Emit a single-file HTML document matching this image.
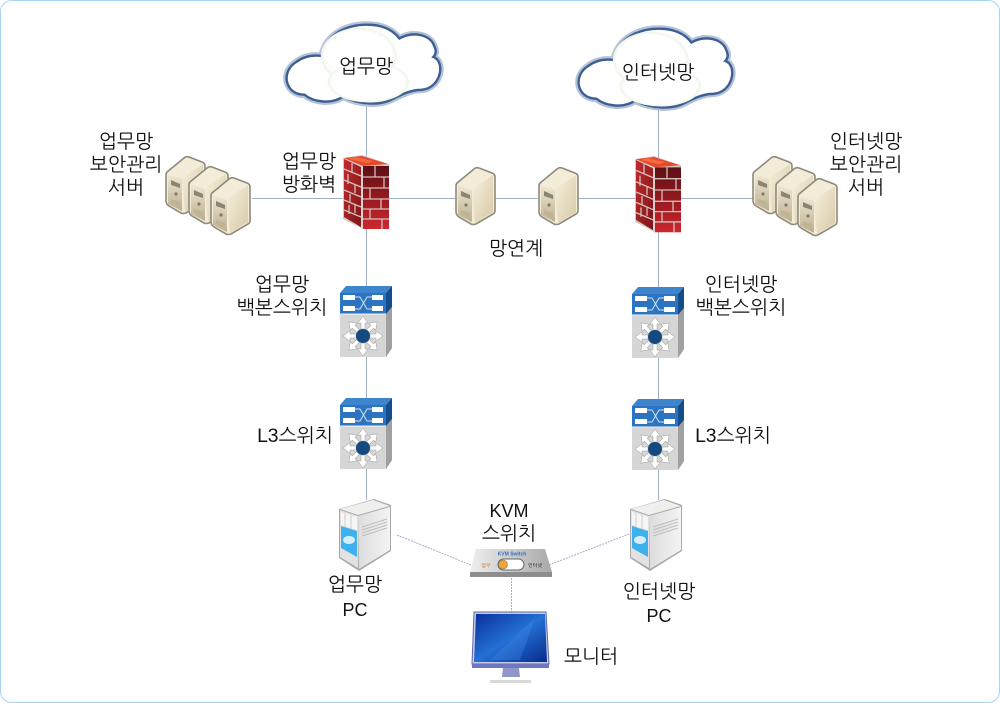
<!DOCTYPE html>
<html lang="ko"><head><meta charset="utf-8"><style>
html,body{margin:0;padding:0;background:#fff}
svg{display:block}
text{font-family:"Liberation Sans","NanumGothic","Noto Sans CJK KR",sans-serif;font-size:19.3px;fill:#111;text-anchor:middle}
text.lat{font-size:18px}
</style></head><body>
<svg width="1000" height="703" viewBox="0 0 1000 703" xmlns="http://www.w3.org/2000/svg">
<defs>
<linearGradient id="srvF" x1="0" y1="0" x2="1" y2="1"><stop offset="0" stop-color="#f6f0de"/><stop offset="1" stop-color="#d8c9a6"/></linearGradient>
<linearGradient id="srvS" x1="0" y1="0" x2="0" y2="1"><stop offset="0" stop-color="#efe8d4"/><stop offset="1" stop-color="#bdaf90"/></linearGradient>
<radialGradient id="cl" cx=".5" cy=".5" r=".55"><stop offset="0" stop-color="#fff"/><stop offset=".8" stop-color="#fff"/><stop offset="1" stop-color="#dcecd4"/></radialGradient>
<linearGradient id="scr" x1="0" y1="0" x2="1" y2="1"><stop offset="0" stop-color="#08309a"/><stop offset=".5" stop-color="#2470d4"/><stop offset="1" stop-color="#062a8a"/></linearGradient>
<linearGradient id="pcS" x1="0" y1="0" x2="1" y2="0"><stop offset="0" stop-color="#dcdcdc"/><stop offset="1" stop-color="#f4f4f4"/></linearGradient>
<linearGradient id="kvm" x1="0" y1="0" x2="1" y2="0"><stop offset="0" stop-color="#eeeeee"/><stop offset="1" stop-color="#a9a9a9"/></linearGradient>
<linearGradient id="brF" x1="0" y1="0" x2="0" y2="1"><stop offset="0" stop-color="#5c0f14"/><stop offset=".5" stop-color="#96191f"/><stop offset="1" stop-color="#cc282e"/></linearGradient>
<linearGradient id="brL" x1="0" y1="0" x2="1" y2="1"><stop offset="0" stop-color="#c22a2c"/><stop offset="1" stop-color="#7c1519"/></linearGradient>

<path id="cloudP" d="M22 76C2 76-3 52 14 42C22 36 32 35 40 36C44 14 66 2 92 4C104 5 114 10 120 18C134 10 152 14 156 26C158 30 158 34 155 37C168 42 163 70 142 71C132 71 122 76 114 80C100 88 78 86 62 78C50 86 32 84 22 76Z"/>
<g id="cloud">
<use href="#cloudP" fill="#fff" stroke="#b4c4d6" stroke-width="7"/>
<use href="#cloudP" fill="#fff" stroke="#3f5f94" stroke-width="2.500"/>
<ellipse cx="78" cy="36" rx="39" ry="29" fill="url(#cl)"/>
<ellipse cx="88" cy="63" rx="42" ry="21" fill="url(#cl)"/>
</g>

<g id="server">
<path d="M2 17 19 3Q21 1 24 2L37 7Q40 8 40 11V45Q40 47 38 48L21 58Q18 59 16 58L4 51Q1 49 1 46V20Q1 18 2 17Z" fill="#f3ecd8" stroke="#8e8a7c" stroke-width="1.600"/>
<path d="M17 23 38 9V46L20 57Z" fill="url(#srvF)"/>
<path d="M3 19 17 24V56L3 49Z" fill="url(#srvS)"/>
<path d="M6 25 15 29V33L6 30Z" fill="#8a8572"/>
<circle cx="11" cy="39" r="1.6" fill="#7d7a68"/>
<path d="M6 44 15 47V52L6 48Z" fill="#bfb396"/>
</g>

<g id="wall">
<path d="M0 3 19 0 46 9V74H20L0 64Z" fill="#d4c6c4"/>
<path d="M1 3 19 1 45 9 20 11Z" fill="#e64a2e"/>
<path d="M12 2 30 6 24 8 6 4Z" fill="#f46a3e"/>
<path d="M1 4 18 12V72L1 62Z" fill="url(#brL)"/>
<path d="M20 11H46V74H20Z" fill="url(#brF)"/>
<path d="M20 22H46M20 33H46M20 44H46M20 54H46M20 64H46M32 11V22M41 22V33M27 33V44M38 44V54M27 54V64M39 64V74M1 14 18 21M1 25 18 32M1 35 18 42M1 45 18 52M1 55 18 62M9 8V18M5 19V29M12 29V38M7 39V48M12 49V58M6 50V59" stroke="#d3bfbd" stroke-width="1.300" fill="none"/>
<path d="M19 11V74" stroke="#e0d4d2" stroke-width="1.500" fill="none"/>
</g>

<path id="arm" d="M-2-7V-13H-5L0-20 5-13H2V-7Z" fill="#fff" stroke="#9a9a9a" stroke-width=".5"/>
<g id="sw">
<path d="M0 7 6 0H52L46 7Z" fill="#3d85cc"/>
<path d="M46 7 52 0V62L46 71Z" fill="#a9a9a9"/>
<path d="M0 7H46V28H0Z" fill="#2b74c2"/>
<path d="M46 7 52 0V21L46 28Z" fill="#134d8a"/>
<path d="M0 28H46V71H0Z" fill="#d6d6d6"/>
<path d="M46 28 52 21V62L46 71Z" fill="#a0a0a0"/>
<path d="M0 28H46" stroke="#f1f1f1"/>
<path d="M3 9H15V14H3ZM32 9H43V14H32ZM3 20H15V25H3ZM32 20H43V25H32Z" fill="#fff"/>
<path d="M15 11H20L27 23H32M15 23H20L27 11H32" stroke="#cfe3f4" fill="none"/>
<g transform="translate(23 50)">
<use href="#arm"/>
<use href="#arm" transform="rotate(45)"/>
<use href="#arm" transform="rotate(90)"/>
<use href="#arm" transform="rotate(135)"/>
<use href="#arm" transform="rotate(180)"/>
<use href="#arm" transform="rotate(225)"/>
<use href="#arm" transform="rotate(270)"/>
<use href="#arm" transform="rotate(315)"/>
<circle r="7" fill="#154a80"/>
</g>
</g>

<g id="pc">
<path d="M1 10 36 0 53 6V52L21 72 1 59Z" fill="#a8a8a8"/>
<path d="M2 10 35 1 52 7 20 16Z" fill="#efefef"/>
<path d="M20 17 52 8V51L21 70Z" fill="url(#pcS)"/>
<path d="M2 11 20 17V69L2 58Z" fill="#e2e2e2"/>
<path d="M3 13 19 18V31L3 26Z" fill="#f6f6f6"/>
<path d="M7 14V28M13 16V30" stroke="#cfcfcf"/>
<path d="M3 27 19 32V58L3 49Z" fill="#3db1ee"/>
<ellipse cx="11" cy="41" rx="6" ry="4" fill="#d5eefb"/>
<path d="M24 28 49 20M24 31 49 23M24 34 49 26M24 37 49 29" stroke="#bcbcbc"/>
</g>
</defs>

<rect x=".5" y=".5" width="999" height="702" rx="11" fill="#fff" stroke="#a9d3f2"/>

<g stroke="#9fb0c9" stroke-width="1" fill="none">
<path d="M366.500 100V500M658.500 100V500M252 198.500H760"/>
</g>
<g stroke="#9fb0c9" stroke-width="1" stroke-dasharray="2 1" fill="none">
<path d="M397 535 471 565M549 565 629 534M511.500 578V612"/>
</g>

<use href="#cloud" transform="translate(283 21) scale(.97)"/>
<use href="#cloud" transform="translate(575 25) scale(.97)"/>

<use href="#server" x="165" y="155"/>
<use href="#server" x="188" y="165"/>
<use href="#server" x="210" y="176"/>
<use href="#server" x="455" y="166"/>
<use href="#server" x="538" y="166"/>
<use href="#server" x="752" y="155"/>
<use href="#server" x="775" y="166"/>
<use href="#server" x="797" y="177"/>

<use href="#wall" x="343" y="155"/>
<use href="#wall" transform="translate(635 156) scale(1 1.030)"/>

<use href="#sw" x="340" y="286"/>
<use href="#sw" x="340" y="398"/>
<use href="#sw" x="632" y="287"/>
<use href="#sw" x="632" y="399"/>

<use href="#pc" x="338" y="499"/>
<use href="#pc" x="629" y="499"/>

<!-- KVM -->
<path d="M476 549H545L552 572 551 577H470V572Z" fill="url(#kvm)"/>
<path d="M470 572H552V577H470Z" fill="#8d8d8d"/>
<rect x="498" y="559" width="26" height="11" rx="5.500" fill="#fff" stroke="#666"/>
<circle cx="503" cy="564.500" r="4.500" fill="#f3a32f" stroke="#777" stroke-width=".6"/>
<text x="512" y="555.500" style="font-size:5px;fill:#3a6fc0;font-weight:bold">KVM Switch</text>
<text x="486" y="567" style="font-size:5px;fill:#d2691e">업무</text>
<text x="535" y="567" style="font-size:5px">인터넷</text>

<!-- Monitor -->
<path d="M474 612H546L549 664H472Z" fill="#c8cce8" stroke="#5c66a8" stroke-width="1"/>
<path d="M476 614H545L547 662H474Z" fill="url(#scr)"/>
<path d="M490 660 535 618 520 660Z" fill="#3f8ae6" opacity=".35"/>
<path d="M472 664H549V668H472Z" fill="#6d78c0"/>
<path d="M503 668H519L520 677H502Z" fill="#8f96c8"/>
<path d="M490 680H531V683H490Z" fill="#d8d8d8"/>

<!-- Labels -->
<text x="366" y="73">업무망</text>
<text x="658" y="79">인터넷망</text>
<text x="126" y="148">업무망</text>
<text x="126" y="171">보안관리</text>
<text x="126" y="194">서버</text>
<text x="309" y="168">업무망</text>
<text x="309" y="191">방화벽</text>
<text x="516" y="255">망연계</text>
<text x="866" y="148">인터넷망</text>
<text x="866" y="171">보안관리</text>
<text x="866" y="194">서버</text>
<text x="282" y="291">업무망</text>
<text x="282" y="314">백본스위치</text>
<text x="741" y="291">인터넷망</text>
<text x="741" y="314">백본스위치</text>
<text x="295" y="442">L3스위치</text>
<text x="733" y="442">L3스위치</text>
<text x="509" y="517" class="lat">KVM</text>
<text x="509" y="540">스위치</text>
<text x="355" y="591">업무망</text>
<text x="355" y="616" class="lat">PC</text>
<text x="659" y="598">인터넷망</text>
<text x="659" y="622" class="lat">PC</text>
<text x="591" y="663">모니터</text>
</svg>
</body></html>
